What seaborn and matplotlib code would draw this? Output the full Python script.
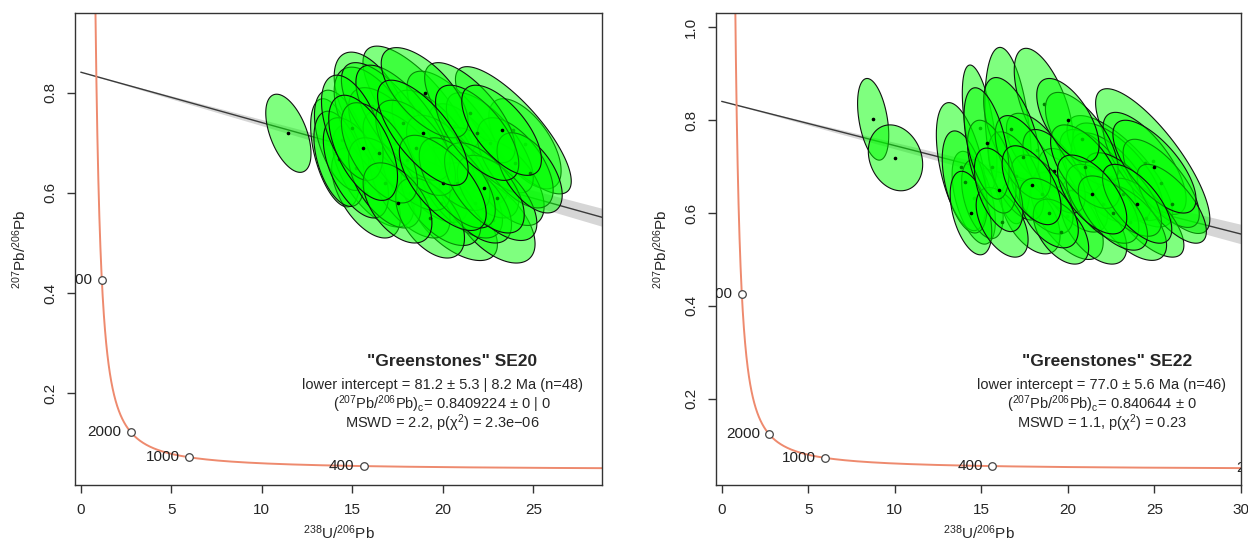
import numpy as np
import pandas as pd
import matplotlib
matplotlib.use("Agg")
import matplotlib.pyplot as plt
import seaborn as sns

# decay constants (1/yr) and 238U/235U
LAMBDA_238 = 1.55125e-10
LAMBDA_235 = 9.8485e-10
U238_U235 = 137.818

# ages marked on the concordia (Ma)
tick_ages = [200, 400, 1000, 2000, 4000]

# SE20 ellipses: centre x, centre y, x half-width, y half-height, correlation
se20_x = [11.47, 14.05, 16.16, 18.69, 20.62, 24.54, 23.90, 16.10, 15.76, 19.07, 14.41, 16.40,
          21.41, 14.28, 20.62, 22.80, 17.30, 18.20, 19.60, 21.00, 22.10, 23.60, 17.00, 15.20,
          19.90, 21.80, 18.00, 16.80, 20.30, 22.60, 24.00, 17.80, 19.30, 15.00, 21.50, 23.00,
          18.50, 20.80, 16.50, 22.30, 19.00, 17.50, 24.80, 20.00, 21.90, 18.90, 15.60, 23.25]
se20_y = [0.719, 0.680, 0.635, 0.763, 0.545, 0.698, 0.725, 0.773, 0.600, 0.636, 0.705, 0.731,
          0.678, 0.668, 0.733, 0.545, 0.700, 0.600, 0.700, 0.600, 0.640, 0.620, 0.745, 0.650,
          0.580, 0.580, 0.665, 0.620, 0.660, 0.700, 0.660, 0.740, 0.550, 0.730, 0.760, 0.590,
          0.690, 0.620, 0.680, 0.610, 0.800, 0.580, 0.640, 0.620, 0.720, 0.720, 0.690, 0.725]
se20_dx = [1.25, 1.35, 2.25, 3.10, 2.40, 2.00, 3.20, 2.10, 1.90, 2.30, 1.50, 2.40,
           2.20, 1.40, 2.60, 2.30, 2.50, 2.20, 2.40, 2.30, 2.10, 2.00, 2.60, 1.80,
           2.20, 2.00, 2.40, 2.00, 2.30, 2.40, 2.10, 2.60, 1.90, 1.70, 2.50, 2.20,
           2.20, 2.10, 2.10, 2.20, 2.40, 1.90, 1.80, 2.40, 2.30, 2.50, 1.90, 2.20]
se20_dy = [0.078, 0.108, 0.103, 0.130, 0.080, 0.090, 0.127, 0.108, 0.090, 0.095, 0.100, 0.120,
           0.100, 0.095, 0.110, 0.085, 0.110, 0.090, 0.105, 0.090, 0.090, 0.085, 0.115, 0.100,
           0.085, 0.080, 0.100, 0.090, 0.095, 0.100, 0.090, 0.115, 0.080, 0.105, 0.100, 0.085,
           0.095, 0.090, 0.100, 0.090, 0.090, 0.080, 0.080, 0.095, 0.095, 0.105, 0.105, 0.090]
se20_rho = [-0.52, -0.50, -0.60, -0.75, -0.60, -0.60, -0.80, -0.55, -0.55, -0.65, -0.50, -0.60,
            -0.65, -0.45, -0.70, -0.55, -0.65, -0.60, -0.65, -0.60, -0.60, -0.55, -0.70, -0.55,
            -0.55, -0.55, -0.65, -0.55, -0.65, -0.70, -0.60, -0.70, -0.50, -0.50, -0.70, -0.60,
            -0.60, -0.60, -0.60, -0.60, -0.65, -0.50, -0.55, -0.65, -0.65, -0.70, -0.55, -0.65]

# SE22 ellipses
se22_x = [8.75, 10.04, 14.90, 16.55, 18.60, 24.90, 19.94, 14.56, 13.85, 23.00, 18.20, 16.73,
          15.06, 17.85, 22.89, 22.50, 21.73, 24.43, 25.39, 20.29, 14.04, 14.40, 24.50, 23.60,
          21.50, 19.20, 17.00, 16.20, 20.80, 22.00, 18.50, 15.60, 26.00, 19.60, 17.40, 23.20,
          21.00, 15.30, 18.90, 25.00, 20.00, 16.00, 22.60, 24.00, 17.90, 21.40]
se22_y = [0.802, 0.719, 0.784, 0.767, 0.835, 0.712, 0.594, 0.633, 0.700, 0.690, 0.735, 0.782,
          0.630, 0.592, 0.689, 0.678, 0.680, 0.707, 0.664, 0.649, 0.667, 0.600, 0.590, 0.580,
          0.570, 0.690, 0.680, 0.580, 0.760, 0.620, 0.640, 0.700, 0.620, 0.560, 0.720, 0.640,
          0.700, 0.750, 0.600, 0.700, 0.800, 0.650, 0.600, 0.620, 0.660, 0.640]
se22_dx = [0.90, 1.57, 1.00, 1.35, 1.70, 3.30, 2.10, 1.25, 1.45, 3.05, 1.75, 1.60,
           1.20, 1.70, 2.60, 2.30, 2.20, 2.40, 2.20, 2.00, 1.30, 1.20, 2.20, 2.10,
           1.90, 1.80, 1.60, 1.50, 2.10, 2.10, 1.80, 1.40, 2.00, 1.60, 1.60, 2.20,
           2.00, 1.30, 1.70, 2.40, 1.80, 1.40, 2.00, 2.00, 1.70, 2.00]
se22_dy = [0.088, 0.071, 0.135, 0.190, 0.120, 0.156, 0.094, 0.100, 0.138, 0.120, 0.080, 0.110,
           0.085, 0.080, 0.105, 0.095, 0.100, 0.110, 0.095, 0.090, 0.110, 0.090, 0.085, 0.082,
           0.080, 0.090, 0.095, 0.075, 0.100, 0.085, 0.085, 0.100, 0.085, 0.070, 0.090, 0.090,
           0.090, 0.120, 0.075, 0.100, 0.090, 0.090, 0.080, 0.085, 0.085, 0.085]
se22_rho = [-0.39, -0.20, -0.55, -0.35, -0.60, -0.80, -0.60, -0.50, -0.50, -0.75, -0.60, -0.55,
            -0.45, -0.50, -0.70, -0.65, -0.65, -0.70, -0.70, -0.60, -0.45, -0.45, -0.70, -0.60,
            -0.55, -0.60, -0.55, -0.50, -0.65, -0.60, -0.55, -0.50, -0.70, -0.50, -0.55, -0.65,
            -0.60, -0.50, -0.50, -0.70, -0.60, -0.50, -0.60, -0.65, -0.55, -0.60]

panels = [
    dict(name='"Greenstones" SE20', x=se20_x, y=se20_y, dx=se20_dx, dy=se20_dy, rho=se20_rho,
         age=81.2, y0=0.8409224, band=0.000625,
         lines=["lower intercept = 81.2 ± 5.3 | 8.2 Ma (n=48)",
                r"($^{207}$Pb/$^{206}$Pb)$_{\mathrm{c}}$= 0.8409224 ± 0 | 0",
                "MSWD = 2.2, p(χ$^2$) = 2.3e\u221206"],
         xlim=(-0.32, 28.8), ylim=(0.017, 0.959), xticks=[0, 5, 10, 15, 20, 25],
         yticks=[0.2, 0.4, 0.6, 0.8], pos=[0.0601, 0.1068, 0.4223, 0.8692], tx=0.697, ttx=0.715),
    dict(name='"Greenstones" SE22', x=se22_x, y=se22_y, dx=se22_dx, dy=se22_dy, rho=se22_rho,
         age=77.0, y0=0.840644, band=0.0007,
         lines=["lower intercept = 77.0 ± 5.6 Ma (n=46)",
                r"($^{207}$Pb/$^{206}$Pb)$_{\mathrm{c}}$= 0.840644 ± 0",
                "MSWD = 1.1, p(χ$^2$) = 0.23"],
         xlim=(-0.33, 30.0), ylim=(0.014, 1.031), xticks=[0, 5, 10, 15, 20, 25, 30],
         yticks=[0.2, 0.4, 0.6, 0.8, 1.0], pos=[0.5737, 0.1068, 0.4207, 0.8692], tx=0.735, ttx=0.745),
]

sns.set_style("white")
plt.rcParams['font.family'] = ['Liberation Sans', 'DejaVu Sans']
plt.rcParams['mathtext.fontset'] = 'custom'
plt.rcParams['mathtext.rm'] = 'Liberation Sans'
plt.rcParams['mathtext.it'] = 'Liberation Sans:italic'
plt.rcParams['mathtext.bf'] = 'Liberation Sans:bold'


def tw_coords(t_ma):
    t = np.asarray(t_ma, dtype=float) * 1e6
    e8 = np.exp(LAMBDA_238 * t) - 1
    e5 = np.exp(LAMBDA_235 * t) - 1
    return 1 / e8, e5 / e8 / U238_U235


# concordia curve
t_curve = np.geomspace(150, 5500, 800)
cx, cy = tw_coords(t_curve)
concordia = pd.DataFrame({"x": cx, "y": cy})
tx, ty = tw_coords(tick_ages)
ticks_df = pd.DataFrame({"x": tx, "y": ty, "age": tick_ages})

theta = np.linspace(0, 2 * np.pi, 120)

fig = plt.figure(figsize=(12.48, 5.43), dpi=100)

for p in panels:
    ax = fig.add_axes(p["pos"])

    sns.lineplot(data=concordia, x="x", y="y", sort=False, estimator=None,
                 color="#EE8A6E", linewidth=1.4, ax=ax, zorder=2)
    sns.scatterplot(data=ticks_df, x="x", y="y", s=30, facecolor="white",
                    edgecolor="#444444", linewidth=0.9, ax=ax, zorder=2.5)
    for xa, ya, a in zip(tx, ty, tick_ages):
        ax.annotate(str(a), (xa, ya), xytext=(-6.5, 0), textcoords="offset points",
                    ha="right", va="center", fontsize=11, color="#222222",
                    clip_on=True, annotation_clip=False)

    # discordia with its error band
    xi, yi = tw_coords(p["age"])
    slope = (yi - p["y0"]) / xi
    xl = np.linspace(0, p["xlim"][1], 50)
    yl = p["y0"] + slope * xl
    ax.fill_between(xl, yl - p["band"] * xl, yl + p["band"] * xl,
                    color="#cccccc", alpha=0.8, linewidth=0, zorder=1.5)
    ax.plot(xl, yl, color="#3a3a3a", linewidth=1.0, zorder=1.6)

    # error ellipses
    for i, (x0, y0, a, b, r) in enumerate(zip(p["x"], p["y"], p["dx"], p["dy"], p["rho"])):
        ex = x0 + a * np.cos(theta)
        ey = y0 + b * (r * np.cos(theta) + np.sqrt(1 - r * r) * np.sin(theta))
        ax.fill(ex, ey, facecolor=(0, 1, 0, 0.5), edgecolor="#111111", linewidth=0.8,
                zorder=3 + i * 0.01)
        ax.plot(x0, y0, "o", markersize=1.6, color="black", zorder=3 + i * 0.01 + 0.005)

    ax.set_xlim(p["xlim"])
    ax.set_ylim(p["ylim"])
    ax.set_xticks(p["xticks"])
    ax.set_yticks(p["yticks"])
    ax.set_yticklabels([f"{v:.1f}" for v in p["yticks"]])
    ax.tick_params(axis="both", direction="out", length=6, width=1, color="#333333",
                   labelsize=11, pad=7, left=True, bottom=True)
    ax.tick_params(axis="y", labelrotation=90)
    for lab in ax.get_yticklabels():
        lab.set_va("center")
    for s in ax.spines.values():
        s.set_visible(True)
        s.set_color("#333333")
        s.set_linewidth(1.0)

    ax.set_xlabel(r"$^{238}$U/$^{206}$Pb", fontsize=11, va="center")
    ax.set_ylabel(r"$^{207}$Pb/$^{206}$Pb", fontsize=11, va="center")
    ax.xaxis.set_label_coords(0.5, -0.1)
    ax.yaxis.set_label_coords(-0.105, 0.5)

    ax.text(p["ttx"], 0.261, p["name"], transform=ax.transAxes, ha="center", va="center",
            fontsize=12.5, fontweight="bold", zorder=10)
    for k, line in enumerate(p["lines"]):
        ax.text(p["tx"], [0.211, 0.172, 0.131][k], line, transform=ax.transAxes,
                ha="center", va="center", fontsize=10.5, zorder=10)

fig.savefig("out.png", dpi=100)
